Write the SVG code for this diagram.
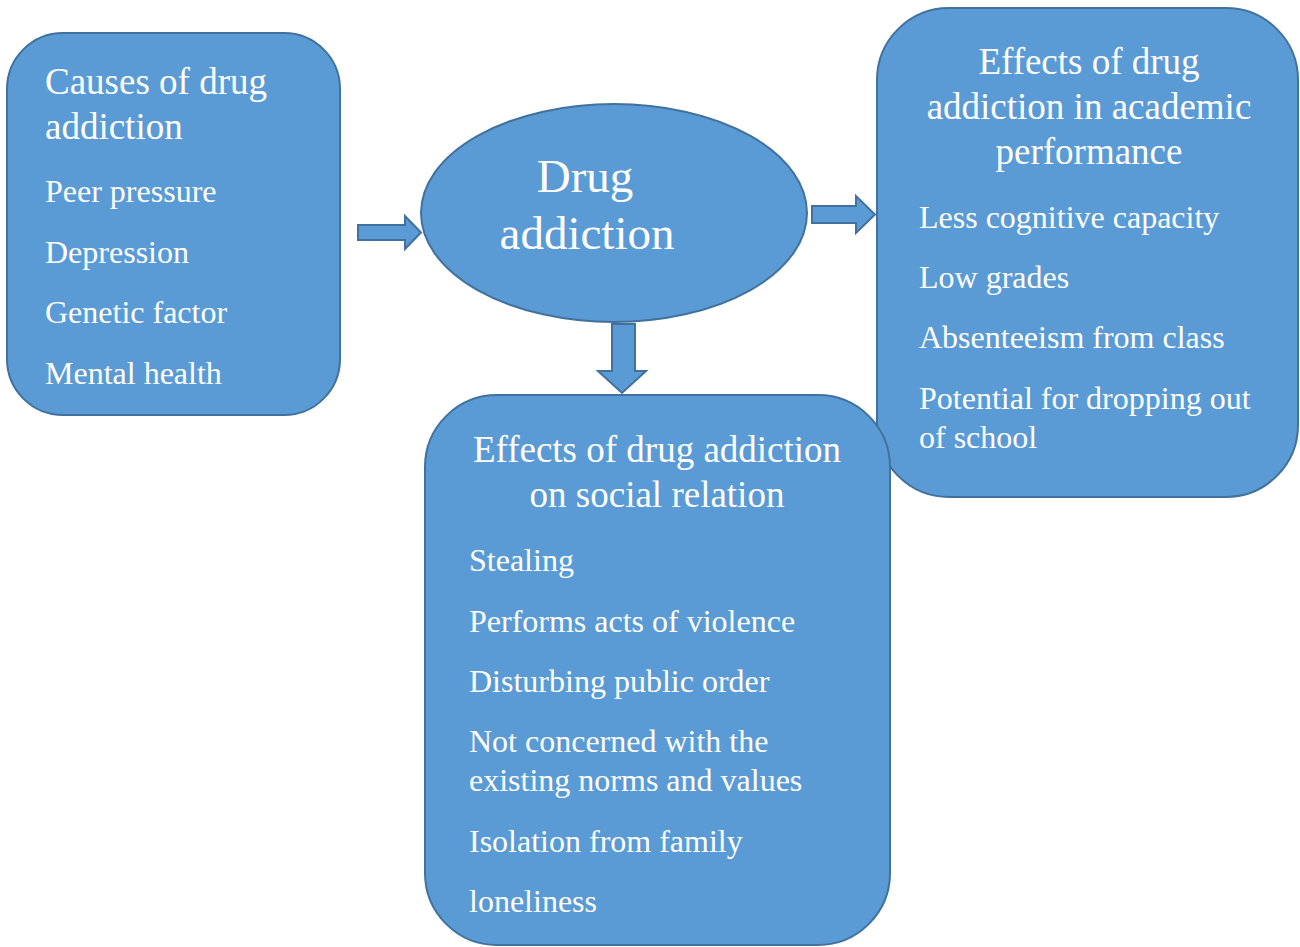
<svg xmlns="http://www.w3.org/2000/svg" width="1300" height="947" viewBox="0 0 1300 947">
<style>
.shape{fill:#5B9BD5;stroke:#41719C;stroke-width:2}
.t{font-family:"Liberation Serif","Times New Roman",serif;fill:#FFFFFF}
.title{font-size:37px}
.item{font-size:32px}
.big{font-size:47px}
.mid{text-anchor:middle}
</style>
<rect width="1300" height="947" fill="#FFFFFF"/>
<g id="connectors">
<polygon class="shape" points="358,225 405,225 405,216 421,232.5 405,249 405,240 358,240"/>
<polygon class="shape" points="812,206 856,206 856,196 875,214.5 856,233 856,223 812,223"/>
<polygon class="shape" points="612,324 635,324 635,371 646,371 622,393 598,371 612,371"/>
</g>
<g id="causes">
<rect class="shape" x="7" y="33" width="333" height="382" rx="56" ry="56"/>
<text class="t title" x="45" y="94">Causes of drug</text>
<text class="t title" x="45" y="139">addiction</text>
<text class="t item" x="45" y="202">Peer pressure</text>
<text class="t item" x="45" y="263">Depression</text>
<text class="t item" x="45" y="323">Genetic factor</text>
<text class="t item" x="45" y="384">Mental health</text>
</g>
<g id="drug-addiction">
<ellipse class="shape" cx="614" cy="213" rx="193" ry="109"/>
<text class="t big mid" x="585" y="192">Drug</text>
<text class="t big mid" x="587" y="249">addiction</text>
</g>
<g id="academic">
<rect class="shape" x="877" y="8" width="421" height="489" rx="72" ry="72"/>
<text class="t title mid" x="1089" y="74">Effects of drug</text>
<text class="t title mid" x="1089" y="119">addiction in academic</text>
<text class="t title mid" x="1089" y="164">performance</text>
<text class="t item" x="919" y="228">Less cognitive capacity</text>
<text class="t item" x="919" y="288">Low grades</text>
<text class="t item" x="919" y="348">Absenteeism from class</text>
<text class="t item" x="919" y="409">Potential for dropping out</text>
<text class="t item" x="919" y="448">of school</text>
</g>
<g id="social">
<rect class="shape" x="425" y="395" width="465" height="550" rx="72" ry="72"/>
<text class="t title mid" x="657" y="462">Effects of drug addiction</text>
<text class="t title mid" x="657" y="507">on social relation</text>
<text class="t item" x="469" y="571">Stealing</text>
<text class="t item" x="469" y="632">Performs acts of violence</text>
<text class="t item" x="469" y="692">Disturbing public order</text>
<text class="t item" x="469" y="752">Not concerned with the</text>
<text class="t item" x="469" y="791">existing norms and values</text>
<text class="t item" x="469" y="852">Isolation from family</text>
<text class="t item" x="469" y="912">loneliness</text>
</g>
</svg>
